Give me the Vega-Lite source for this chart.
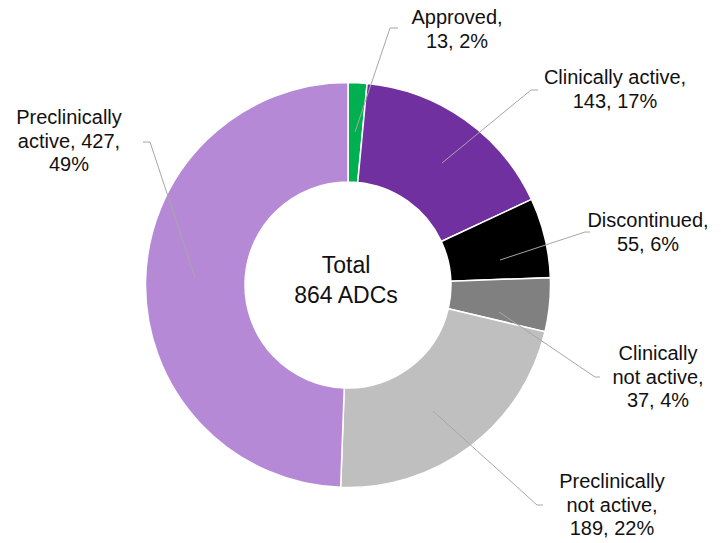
{
  "$schema": "https://vega.github.io/schema/vega-lite/v6.json",
  "width": 721,
  "height": 543,
  "padding": 0,
  "autosize": "none",
  "background": "white",
  "config": {"view": {"stroke": null}, "font": "Liberation Sans"},
  "datasets": {
    "slices": [
      {"status": "Approved", "count": 13, "idx": 1},
      {"status": "Clinically active", "count": 143, "idx": 2},
      {"status": "Discontinued", "count": 55, "idx": 3},
      {"status": "Clinically not active", "count": 37, "idx": 4},
      {"status": "Preclinically not active", "count": 189, "idx": 5},
      {"status": "Preclinically active", "count": 427, "idx": 6}
    ],
    "labels": [
      {"status": "Approved", "label": "Approved,\n13, 2%", "lx": 109, "ly": 267},
      {"status": "Clinically active", "label": "Clinically active,\n143, 17%", "lx": 267, "ly": 207},
      {"status": "Discontinued", "label": "Discontinued,\n55, 6%", "lx": 300, "ly": 64},
      {"status": "Clinically not active", "label": "Clinically\nnot active,\n37, 4%", "lx": 310, "ly": -69},
      {"status": "Preclinically not active", "label": "Preclinically\nnot active,\n189, 22%", "lx": 264, "ly": -197},
      {"status": "Preclinically active", "label": "Preclinically\nactive, 427,\n49%", "lx": -279, "ly": 167}
    ],
    "leaders": [
      {"status": "Approved", "seq": 1, "lx": 7, "ly": 153},
      {"status": "Approved", "seq": 2, "lx": 42, "ly": 257},
      {"status": "Approved", "seq": 3, "lx": 50, "ly": 257},
      {"status": "Clinically active", "seq": 1, "lx": 94, "ly": 122},
      {"status": "Clinically active", "seq": 2, "lx": 183, "ly": 195},
      {"status": "Clinically active", "seq": 3, "lx": 190, "ly": 195},
      {"status": "Discontinued", "seq": 1, "lx": 152, "ly": 25},
      {"status": "Discontinued", "seq": 2, "lx": 237, "ly": 53},
      {"status": "Discontinued", "seq": 3, "lx": 242, "ly": 53},
      {"status": "Clinically not active", "seq": 1, "lx": 151, "ly": -27},
      {"status": "Clinically not active", "seq": 2, "lx": 247, "ly": -92},
      {"status": "Clinically not active", "seq": 3, "lx": 252, "ly": -92},
      {"status": "Preclinically not active", "seq": 1, "lx": 85, "ly": -126},
      {"status": "Preclinically not active", "seq": 2, "lx": 189, "ly": -220},
      {"status": "Preclinically not active", "seq": 3, "lx": 195, "ly": -220},
      {"status": "Preclinically active", "seq": 1, "lx": -205, "ly": 143},
      {"status": "Preclinically active", "seq": 2, "lx": -198, "ly": 143},
      {"status": "Preclinically active", "seq": 3, "lx": -153, "ly": 7}
    ],
    "center": [
      {"label": "Total\n864 ADCs", "lx": -2, "ly": 19}
    ]
  },
  "layer": [
    {
      "data": {"name": "slices"},
      "mark": {"type": "arc", "outerRadius": 202.5, "innerRadius": 103, "stroke": "white", "strokeWidth": 1.5},
      "encoding": {
        "x": {"datum": 0, "type": "quantitative", "scale": {"domain": [-348, 373], "nice": false, "zero": false}, "axis": null},
        "y": {"datum": 0, "type": "quantitative", "scale": {"domain": [-258, 285], "nice": false, "zero": false}, "axis": null},
        "theta": {"field": "count", "type": "quantitative", "stack": true},
        "order": {"field": "idx", "type": "quantitative"},
        "color": {
          "field": "status", "type": "nominal", "legend": null,
          "scale": {
            "domain": ["Approved", "Clinically active", "Discontinued", "Clinically not active", "Preclinically not active", "Preclinically active"],
            "range": ["#00B050", "#7030A0", "#000000", "#808080", "#BFBFBF", "#B589D6"]
          }
        }
      }
    },
    {
      "data": {"name": "leaders"},
      "mark": {"type": "line", "stroke": "#A6A6A6", "strokeWidth": 1},
      "encoding": {
        "x": {"field": "lx", "type": "quantitative", "scale": {"domain": [-348, 373], "nice": false, "zero": false}, "axis": null},
        "y": {"field": "ly", "type": "quantitative", "scale": {"domain": [-258, 285], "nice": false, "zero": false}, "axis": null},
        "detail": {"field": "status"},
        "order": {"field": "seq", "type": "quantitative"}
      }
    },
    {
      "data": {"name": "labels"},
      "mark": {"type": "text", "fontSize": 20, "lineHeight": 23.5, "lineBreak": "\n", "align": "center", "baseline": "middle", "color": "#111111"},
      "encoding": {
        "x": {"field": "lx", "type": "quantitative", "axis": null},
        "y": {"field": "ly", "type": "quantitative", "axis": null},
        "text": {"field": "label"}
      }
    },
    {
      "data": {"name": "center"},
      "mark": {"type": "text", "fontSize": 23, "lineHeight": 30, "lineBreak": "\n", "align": "center", "baseline": "middle", "color": "#111111"},
      "encoding": {
        "x": {"field": "lx", "type": "quantitative", "axis": null},
        "y": {"field": "ly", "type": "quantitative", "axis": null},
        "text": {"field": "label"}
      }
    }
  ]
}
